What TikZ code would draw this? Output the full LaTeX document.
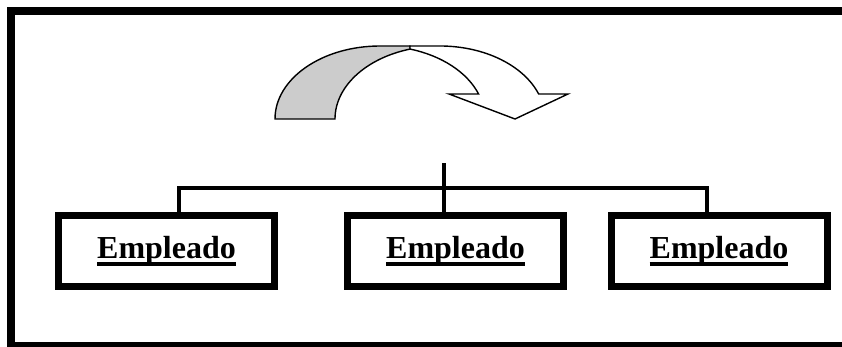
\documentclass[tikz,border=0pt]{standalone}
\usepackage{fontspec}
\setmainfont{Liberation Serif}
\newsavebox\ulbox
% bold word with a heavy underline
\newcommand{\ulword}[1]{\sbox\ulbox{#1}\rlap{\rule[-7pt]{\wd\ulbox}{3.2pt}}\usebox\ulbox}
\begin{document}
\begin{tikzpicture}[x=1pt,y=1pt,
  emp/.style={draw, line width=7pt, fill=white, minimum width=216pt,
    minimum height=71pt, inner sep=0pt,
    font=\fontsize{32}{38}\selectfont\bfseries},
  conn/.style={line width=4pt},
  curl/.style={line width=1.4pt, line join=miter}]
\useasboundingbox (0,0) rectangle (842,347);
\clip (0,0) rectangle (842,347);

% outer frame
\draw[line width=8pt] (11,1) rectangle (852,336);

% the three employee boxes
\node[emp] (b1) at (166.5,96) {\ulword{Empleado}};
\node[emp] (b2) at (455.5,96) {\ulword{Empleado}};
\node[emp] (b3) at (719,96)   {\ulword{Empleado}};

% tree connectors
\draw[conn] ([xshift=12.5pt]b1.north) -- ++(0,24) -| ([xshift=-12pt]b3.north);
\draw[conn] ([xshift=-12pt]b2.north) -- ++(0,48.5);

% curved arrow: shaded back part
\draw[curl, fill=black!20]
  (275,228) arc[start angle=180, end angle=90, x radius=105, y radius=73]
  -- (410,301) -- (410,297.9)
  arc[start angle=106.6, end angle=180, x radius=105, y radius=73]
  -- cycle;
% curved arrow: front part with head
\draw[curl, fill=white]
  (410,301) -- (440,301)
  arc[start angle=90, end angle=20.03, x radius=105, y radius=73]
  -- (568,253) -- (515,228) -- (449,253) -- (478.6,253)
  arc[start angle=20.03, end angle=73.4, x radius=105, y radius=73]
  -- cycle;
\end{tikzpicture}
\end{document}
